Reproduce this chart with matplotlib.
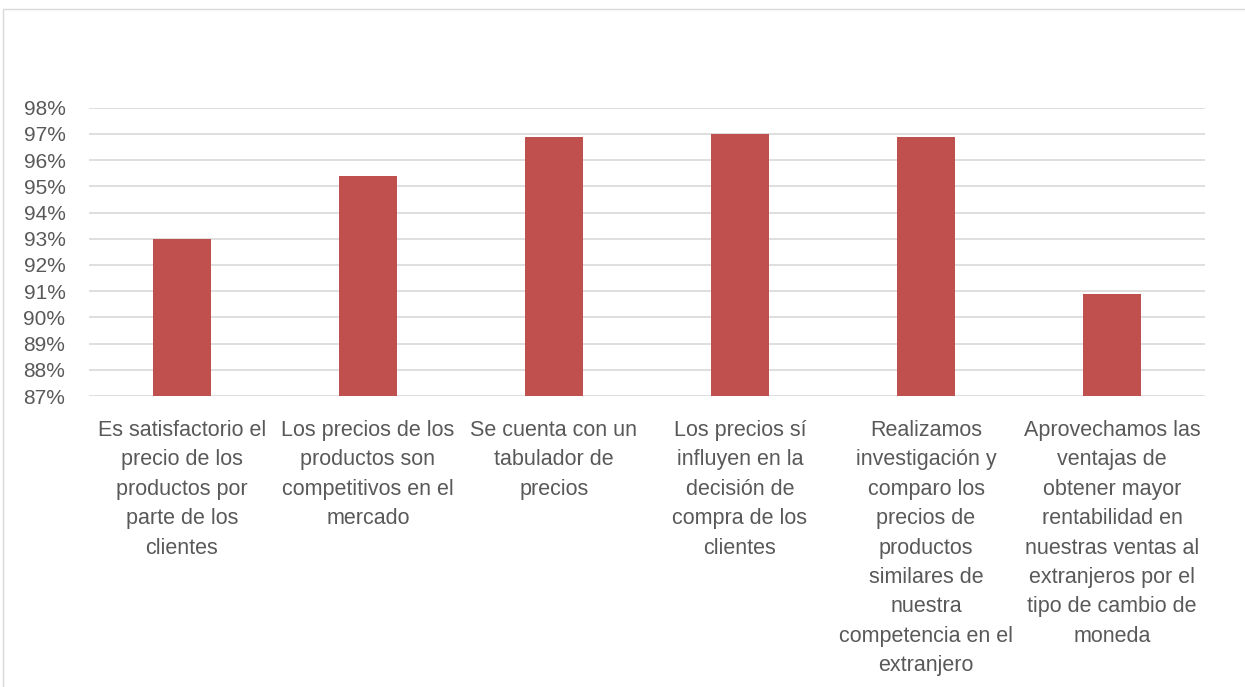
import numpy as np
import matplotlib
matplotlib.use('Agg')
import matplotlib.pyplot as plt
from matplotlib.ticker import FuncFormatter
from matplotlib.patches import Rectangle

plt.rcParams['font.family'] = ['Liberation Sans', 'DejaVu Sans']

# data
categories = [
    "Es satisfactorio el\nprecio de los\nproductos por\nparte de los\nclientes",
    "Los precios de los\nproductos son\ncompetitivos en el\nmercado",
    "Se cuenta con un\ntabulador de\nprecios",
    "Los precios sí\ninfluyen en la\ndecisión de\ncompra de los\nclientes",
    "Realizamos\ninvestigación y\ncomparo los\nprecios de\nproductos\nsimilares de\nnuestra\ncompetencia en el\nextranjero",
    "Aprovechamos las\nventajas de\nobtener mayor\nrentabilidad en\nnuestras ventas al\nextranjeros por el\ntipo de cambio de\nmoneda",
]
values = [0.930, 0.954, 0.969, 0.970, 0.969, 0.909]
y_ticks = [0.87, 0.88, 0.89, 0.90, 0.91, 0.92, 0.93, 0.94, 0.95, 0.96, 0.97, 0.98]

W, H = 1245, 687
fig = plt.figure(figsize=(W / 100, H / 100), dpi=100)
ax = fig.add_axes([89 / W, 1 - 396 / H, (1205 - 89) / W, (396 - 107.7) / H])

x = np.arange(len(categories))
ax.bar(x, values, width=0.31, bottom=0, color='#c0504d', zorder=3)
ax.set_xlim(-0.5, len(categories) - 0.5)
ax.set_ylim(0.87, 0.98)
ax.set_yticks(y_ticks)
ax.yaxis.set_major_formatter(FuncFormatter(lambda v, p: '{:.0f}%'.format(v * 100)))
ax.grid(axis='y', color='#d9d9d9', linewidth=1.2, zorder=0)
for s in ax.spines.values():
    s.set_visible(False)
ax.tick_params(axis='y', length=0, labelsize=15, colors='#595959', pad=17)
ax.set_xticks(x)
ax.set_xticklabels(categories, linespacing=1.53, va='top')
ax.tick_params(axis='x', length=0, labelsize=15.5, colors='#595959', pad=17)

# outer chart frame
fig.patches.append(Rectangle((3 / W, -0.01), 1.5, 1 - 9 / H + 0.01, transform=fig.transFigure,
                             fill=False, edgecolor='#d9d9d9', linewidth=1))

fig.savefig('out.png', dpi=100)
